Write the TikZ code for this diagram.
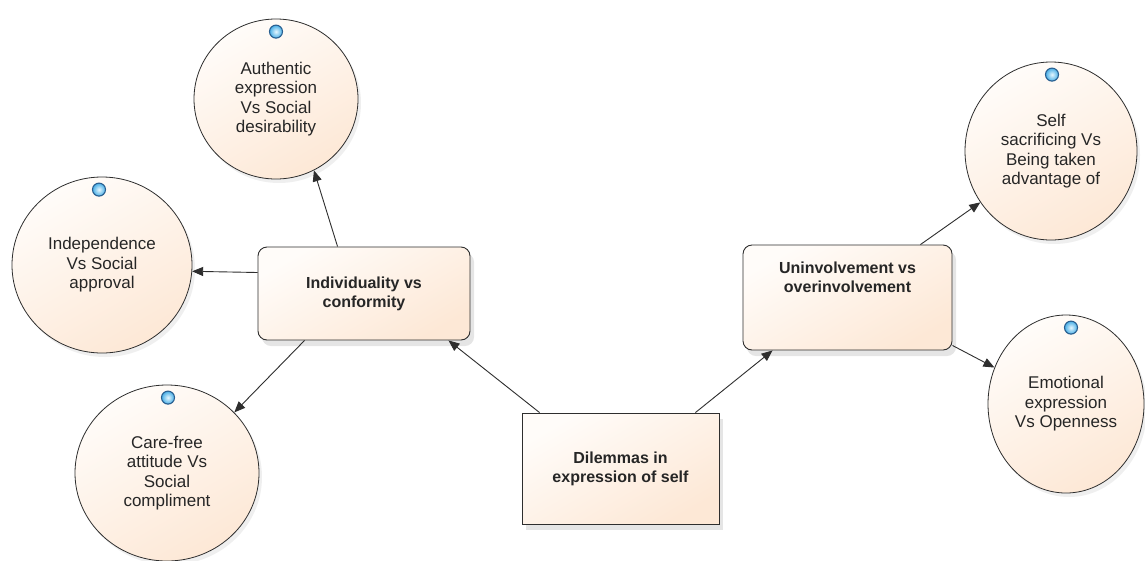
\documentclass[tikz,border=0pt]{standalone}
\usepackage{fontspec}
\setmainfont{Liberation Sans}
\usetikzlibrary{arrows.meta,shapes.geometric,shadows,calc}
\definecolor{peachL}{HTML}{FFFCF9}
\definecolor{peachR}{HTML}{FDE8D6}
\definecolor{edgec}{HTML}{2E2E2E}
\definecolor{dotin}{HTML}{E6F7FF}
\definecolor{dotout}{HTML}{48AEE6}
\definecolor{dotb}{HTML}{2A5F90}
\definecolor{txtc}{HTML}{262626}
\begin{document}
\begin{tikzpicture}[x=1pt,y=-1pt,
  txt/.style={font=\fontsize{17}{19.5}\selectfont, align=center, text=txtc},
  bubble/.style={ellipse, draw=edgec, line width=0.8pt, inner sep=0pt,
    top color=peachL, bottom color=peachR, shading angle=30,
    txt, drop shadow={shadow xshift=3pt, shadow yshift=-4pt, opacity=0.12, fill=gray}},
  boxc/.style={rectangle, draw=edgec, line width=0.9pt, inner sep=0pt,
    top color=peachL, bottom color=peachR, shading angle=30,
    align=center, text=txtc, font=\fontsize{16}{19}\selectfont\bfseries,
    drop shadow={shadow xshift=4pt, shadow yshift=-6pt, opacity=0.2, fill=gray}},
  rbox/.style={boxc, rounded corners=9pt},
  dotn/.style={circle, minimum size=13pt, inner sep=0pt, draw=dotb, line width=1.1pt,
    inner color=dotin, outer color=dotout},
  arr/.style={draw=edgec, line width=0.9pt, -{Triangle[length=11pt,width=9pt]}}
]
\fill[white] (0,0) rectangle (1145,560);
\useasboundingbox (0,0) rectangle (1145,560);

% central and second-level boxes
\node[boxc, minimum width=197pt, minimum height=111pt] (dil) at (620.5,468.5) {Dilemmas in\\expression of self};
\node[rbox, minimum width=212pt, minimum height=93pt] (ind) at (364,293.5) {Individuality vs\\conformity};
\node[rbox, minimum width=209pt, minimum height=105pt] (unv) at (847.5,297.5) {};
\node[align=center, text=txtc, font=\fontsize{16}{19}\selectfont\bfseries] (unvt) at (847.5,277) {Uninvolvement vs\\overinvolvement};

% bubbles
\node[bubble, minimum width=164pt, minimum height=160pt] (auth) at (276,99) {Authentic\\expression\\Vs Social\\desirability};
\node[bubble, minimum width=180pt, minimum height=176pt] (indep) at (102,265) {Independence\\Vs Social\\approval};
\node[bubble, minimum width=184pt, minimum height=176pt] (care) at (167,473) {Care-free\\attitude Vs\\Social\\compliment};
\node[bubble, minimum width=172pt, minimum height=178pt] (self) at (1051,151) {Self\\sacrificing Vs\\Being taken\\advantage of};
\node[bubble, minimum width=156pt, minimum height=178pt] (emot) at (1066,404) {Emotional\\expression\\Vs Openness};

% blue dots
\node[dotn] (d1) at ($(auth.north)+(0,13)$) {};
\node[dotn] (d2) at ($(indep.north)+(-3,13)$) {};
\node[dotn] (d3) at ($(care.north)+(1,13)$) {};
\node[dotn] (d4) at ($(self.north)+(1,13)$) {};
\node[dotn] (d5) at ($(emot.north)+(5,13)$) {};

% connectors
\draw[arr] ($(dil.north west)+(18,0)$) -- ($(ind.south east)+(-22,0)$);
\draw[arr] ($(dil.north east)+(-24,0)$) -- ($(unv.south west)+(30,0)$);
\draw[arr] ($(ind.north west)+(80,0)$) -- (auth.-62);
\draw[arr] ($(ind.west)+(0,-21)$) -- (indep.-4);
\draw[arr] ($(ind.south west)+(47,0)$) -- (care.42);
\draw[arr] ($(unv.north east)+(-32,0)$) -- (self.216);
\draw[arr] ($(unv.south east)+(0,-5)$) -- (emot.153);
\end{tikzpicture}
\end{document}
